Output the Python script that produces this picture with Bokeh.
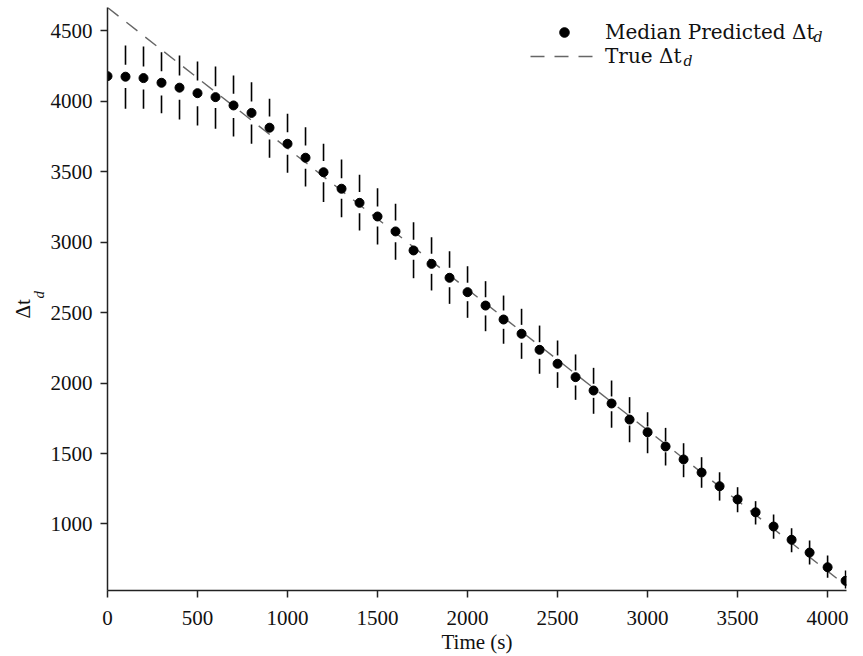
import math
from bokeh.plotting import figure
from bokeh.models import Range1d, FixedTicker, Label, Legend, LegendItem, Title
from bokeh.embed import file_html
from bokeh.resources import INLINE

NaN = float("nan")

# ---- data ----
time = [0, 100, 200, 300, 400, 500, 600, 700, 800, 900, 1000, 1100, 1200, 1300,
        1400, 1500, 1600, 1700, 1800, 1900, 2000, 2100, 2200, 2300, 2400, 2500,
        2600, 2700, 2800, 2900, 3000, 3100, 3200, 3300, 3400, 3500, 3600, 3700,
        3800, 3900, 4000, 4100]
median = [4178, 4174, 4164, 4131, 4096, 4057, 4029, 3970, 3917, 3812, 3698, 3599,
          3496, 3379, 3279, 3182, 3076, 2941, 2846, 2747, 2645, 2550, 2451, 2350,
          2236, 2137, 2042, 1947, 1855, 1741, 1651, 1550, 1458, 1365, 1268, 1174,
          1083, 982, 888, 797, 693, 597]
upper = [NaN, 4396, 4389, 4348, 4325, 4282, 4247, 4183, 4135, 4017, 3911, 3816,
         3698, 3587, 3478, 3383, 3272, 3142, 3035, 2936, 2829, 2723, 2621, 2527,
         2408, 2302, 2203, 2108, 2018, 1900, 1793, 1682, 1573, 1474, 1367, 1261,
         1162, 1067, 970, 883, 776, 670]
q3 = [NaN, 4259, 4247, 4213, 4183, 4147, 4107, 4053, 3998, 3892, 3780, 3686,
      3575, 3454, 3355, 3253, 3154, 3017, 2917, 2818, 2712, 2609, 2515, 2413,
      2290, 2196, 2089, 1995, 1905, 1786, 1692, 1587, 1486, 1392, 1296, 1198,
      1110, 1007, 911, 819, 716, 620]
q1 = [NaN, 4093, 4083, 4041, 4010, 3965, 3951, 3880, 3835, 3729, 3620, 3521,
      3425, 3308, 3205, 3111, 3000, 2875, 2775, 2680, 2581, 2480, 2385, 2286,
      2172, 2077, 1983, 1895, 1800, 1699, 1616, 1509, 1422, 1332, 1240, 1149,
      1060, 957, 861, 773, 670, 574]
lower = [NaN, 3946, 3946, 3915, 3870, 3828, 3804, 3750, 3698, 3599, 3492, 3395,
         3284, 3177, 3083, 2983, 2875, 2744, 2657, 2562, 2463, 2368, 2279, 2172,
         2066, 1966, 1881, 1782, 1683, 1580, 1502, 1415, 1332, 1257, 1166, 1083,
         996, 895, 800, 712, 618, 542]
true_time = [0, 4105]
true_dt = [4665, 560]

x_ticks = [0, 500, 1000, 1500, 2000, 2500, 3000, 3500, 4000]
y_ticks = [1000, 1500, 2000, 2500, 3000, 3500, 4000, 4500]

SERIF = "Liberation Serif"
LEG_FONT = "DejaVu Serif"

p = figure(frame_width=739, frame_height=583, output_backend="svg",
           toolbar_location=None,
           x_range=Range1d(0, 4105), y_range=Range1d(528, 4665),
           min_border_left=107, min_border_right=12, min_border_top=7,
           min_border_bottom=40)
p.outline_line_color = None
p.grid.visible = False
p.background_fill_color = "white"

# true line
true_r = p.line(true_time, true_dt, line_color="#666666", line_width=1.4,
                line_dash="14 10")
# whiskers (Tufte style: gap for the inner range)
p.segment(x0=time, y0=q3, x1=time, y1=upper, line_color="black", line_width=1.6)
p.segment(x0=time, y0=lower, x1=time, y1=q1, line_color="black", line_width=1.6)
med_r = p.scatter(time, median, size=9, marker="circle", fill_color="black",
                  line_color="black")

for ax, ticks in ((p.xaxis[0], x_ticks), (p.yaxis[0], y_ticks)):
    ax.ticker = FixedTicker(ticks=ticks)
    ax.minor_tick_line_color = None
    ax.major_tick_in = 0
    ax.major_tick_out = 7
    ax.major_tick_line_width = 1.5
    ax.axis_line_width = 1.5
    ax.axis_line_color = "#222222"
    ax.major_tick_line_color = "#222222"
    ax.major_label_text_font = SERIF
    ax.major_label_text_font_size = "21px"
    ax.major_label_text_color = "#111111"
p.xaxis.major_label_standoff = 13
p.yaxis.major_label_standoff = 8

p.xaxis.axis_label = "Time (s)"
p.xaxis.axis_label_text_font = SERIF
p.xaxis.axis_label_text_font_size = "21px"
p.xaxis.axis_label_text_font_style = "normal"
p.xaxis.axis_label_text_color = "#111111"
p.xaxis.axis_label_standoff = 2

# y axis label with subscript, as two side titles
p.add_layout(Title(text="d", align="left", offset=292, standoff=1,
                   text_font=SERIF, text_font_size="15px",
                   text_font_style="italic", text_color="#111111"), "left")
p.add_layout(Title(text="Δt", align="left", offset=272, standoff=-13,
                   text_font=SERIF, text_font_size="21px",
                   text_font_style="normal", text_color="#111111"), "left")

leg_style = dict(padding=0, margin=0, spacing=0, glyph_width=68, glyph_height=24,
                 label_height=24, label_standoff=7, border_line_color=None,
                 background_fill_alpha=0, label_text_font=LEG_FONT,
                 label_text_font_size="20px", label_text_color="#111111")
p.add_layout(Legend(items=[LegendItem(label="Median Predicted Δt",
                                      renderers=[med_r])],
                    location=(423, 546), **leg_style))
p.add_layout(Legend(items=[LegendItem(label="True Δt", renderers=[true_r])],
                    location=(423, 522), **leg_style))

p.add_layout(Label(x=706, y=554, x_units="screen", y_units="screen",
                   text="d", text_align="left", text_baseline="middle",
                   text_font=LEG_FONT, text_font_size="14px",
                   text_font_style="italic", text_color="#111111"))
p.add_layout(Label(x=576, y=530, x_units="screen", y_units="screen",
                   text="d", text_align="left", text_baseline="middle",
                   text_font=LEG_FONT, text_font_size="14px",
                   text_font_style="italic", text_color="#111111"))

open("out.html", "w").write(file_html(p, INLINE))
